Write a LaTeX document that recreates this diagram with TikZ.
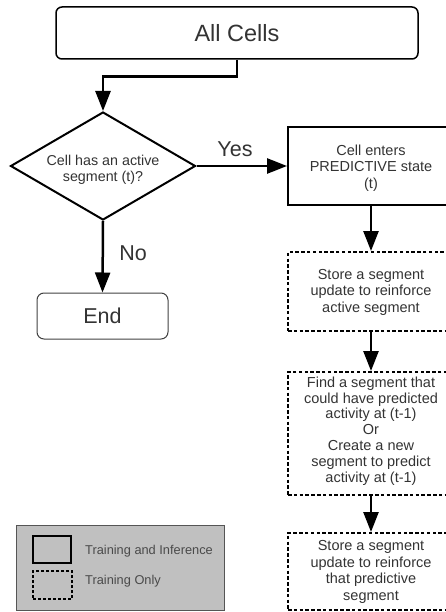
\documentclass[tikz,border=0pt]{standalone}
\usepackage{fontspec}
\setmainfont{Liberation Sans}
\usetikzlibrary{arrows.meta,shapes.geometric}

\definecolor{txtgray}{HTML}{333333}
\definecolor{legfill}{HTML}{C0C0C0}
\definecolor{legline}{HTML}{555555}
\definecolor{legtext}{HTML}{4A4A4A}

\tikzset{
  boxtext/.style={text=txtgray, align=center, inner sep=0pt,
    font=\fontsize{14.5}{16.5}\selectfont},
  solidbox/.style={draw=black, line width=1.9pt, minimum width=166pt, inner sep=0pt},
  dashbox/.style={draw=black, line width=2pt, dash pattern=on 3.5pt off 2.3pt,
    minimum width=166pt, inner sep=0pt},
  flow/.style={draw=black, line width=2.5pt,
    -{Triangle[length=20pt,width=15pt]}},
  bigtext/.style={text=txtgray, inner sep=0pt, font=\fontsize{21.5}{24}\selectfont},
}

\begin{document}
\begin{tikzpicture}[x=1pt,y=-1pt]
  \useasboundingbox (0,0) rectangle (446,612);
  \clip (0,0) rectangle (446,612);

  % start box
  \node[draw=black, line width=1.5pt, rounded corners=6pt,
        minimum width=362pt, minimum height=52pt, inner sep=0pt,
        text=txtgray, font=\fontsize{23.5}{26}\selectfont]
        (all) at (237,33) {All Cells};

  % decision
  \node[diamond, draw=black, line width=2pt, minimum width=185pt,
        minimum height=108pt, inner sep=0pt] (q) at (103,166) {};
  \node[boxtext, font=\fontsize{14.3}{16.5}\selectfont] (qt) at (103,170)
        {Cell has an active\\segment (t)?};

  % end box
  \node[draw=black!75, line width=1pt, rounded corners=7pt,
        minimum width=131pt, minimum height=46pt, inner sep=0pt,
        text=txtgray, font=\fontsize{21.5}{24}\selectfont]
        (end) at (102.5,316) {End};

  % right column
  \node[solidbox, minimum height=78pt] (pred) at (371,166) {};
  \node[boxtext] (predt) at (371,168) {Cell enters\\PREDICTIVE state\\(t)};

  \node[dashbox, minimum height=79pt] (st1) at (371,291.5) {};
  \node[boxtext] (st1t) at (371,292) {Store a segment\\update to reinforce\\active segment};

  \node[dashbox, minimum height=123pt] (find) at (371,433.5) {};
  \node[boxtext, font=\fontsize{14.5}{15.8}\selectfont] (findt) at (371,431)
        {Find a segment that\\could have predicted\\activity at (t-1)\\Or\\Create a new\\segment to predict\\activity at (t-1)};

  \node[dashbox, minimum height=77pt] (st2) at (371,571.5) {};
  \node[boxtext] (st2t) at (371,572) {Store a segment\\update to reinforce\\that predictive\\segment};

  % connectors
  \draw[flow] (all.south) -- ++(0,17) -| (q.north);
  \draw[flow] (q.east) -- (pred.west);
  \draw[flow] (q.south) -- (end.north);
  \draw[flow] (pred.south) -- (st1.north);
  \draw[flow] (st1.south) -- (find.north);
  \draw[flow] (find.south) -- (st2.north);

  \node[bigtext] (yes) at (235,149) {Yes};
  \node[bigtext] (no) at (133,253) {No};

  % legend
  \node[draw=legline, fill=legfill, line width=0.9pt, minimum width=208pt,
        minimum height=85pt, inner sep=0pt] (legend) at (120,567.5) {};
  \node[draw=black, line width=1.5pt, minimum width=38pt, minimum height=27pt,
        inner sep=0pt] (keysolid) at (52,549.5) {};
  \node[draw=black, line width=1.6pt, dash pattern=on 3pt off 2pt,
        minimum width=39pt, minimum height=28pt, inner sep=0pt] (keydash) at (52.5,585) {};
  \node[anchor=west, text=legtext, inner sep=0pt,
        font=\fontsize{12.8}{14}\selectfont] (lab1) at (85,551) {Training and Inference};
  \node[anchor=west, text=legtext, inner sep=0pt,
        font=\fontsize{12.8}{14}\selectfont] (lab2) at (85,581) {Training Only};
\end{tikzpicture}
\end{document}
